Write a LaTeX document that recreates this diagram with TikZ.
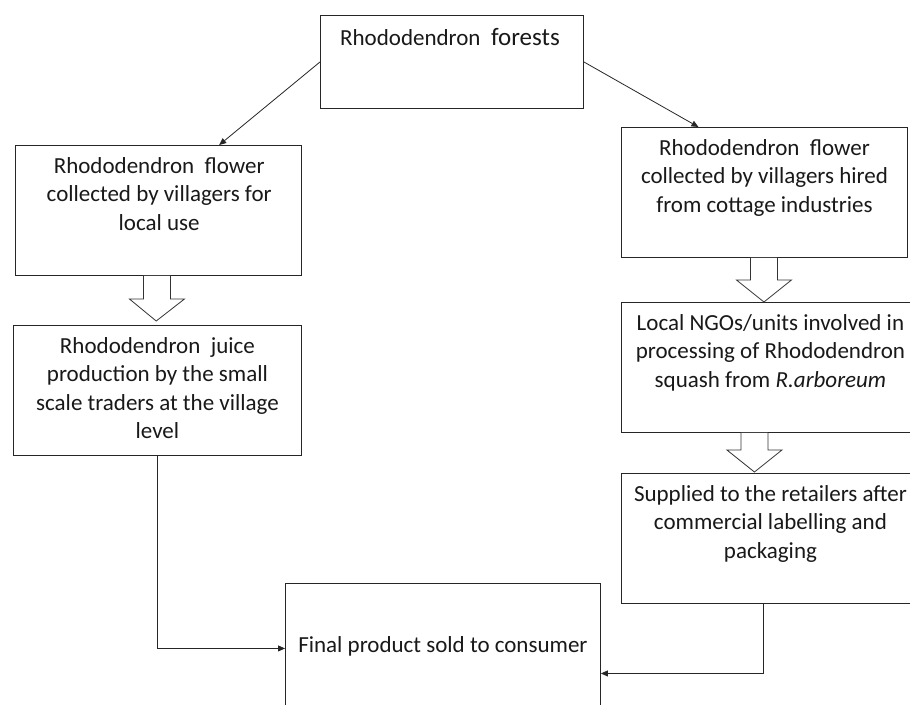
\documentclass[tikz,border=0pt]{standalone}
\usepackage{fontspec}
\setmainfont{Carlito}
\usetikzlibrary{arrows.meta,calc}
\tikzset{
  box/.style={draw=black!85, line width=0.9pt, inner sep=0pt, anchor=north west},
  txt/.style={align=center, inner sep=0pt, font=\fontsize{23}{28.5}\selectfont, text=black!90, anchor=north},
  conn/.style={draw=black!85, line width=0.8pt, -{Triangle[length=7pt,width=6pt]}},
  hollow/.style={draw=black!80, line width=0.8pt, fill=white},
}
\newcommand\blockarr[2]{%
  \draw[hollow] ($(#1)+(-13.5,0)$) -- ($(#1|-#2)+(-13.5,-22)$) -- ($(#1|-#2)+(-27.5,-22)$)
    -- (#2) -- ($(#1|-#2)+(27.5,-22)$) -- ($(#1|-#2)+(13.5,-22)$) -- ($(#1)+(13.5,0)$);}
\begin{document}
\begin{tikzpicture}[x=1pt,y=-1pt]
\useasboundingbox (0,0) rectangle (910,704);
\fill[white] (0,0) rectangle (910,704);
\clip (0,0) rectangle (910,704);

% boxes
\node[box, minimum width=263pt, minimum height=93pt] (tb) at (320,15) {};
\node[box, minimum width=286.5pt, minimum height=130pt] (l1) at (14.5,145) {};
\node[box, minimum width=288pt, minimum height=130pt] (l2) at (13,325) {};
\node[box, minimum width=286pt, minimum height=130pt] (r1) at (621,127) {};
\node[box, minimum width=298pt, minimum height=130pt] (r2) at (621,302) {};
\node[box, minimum width=298pt, minimum height=130pt] (r3) at (621,473) {};
\node[box, minimum width=315pt, minimum height=130pt] (fb) at (285,583) {};

% texts
\node[txt, anchor=base] (tbt) at ($(tb.north)+(-2,30)$) {Rhododendron\ \ {\fontsize{25}{28}\selectfont forests}};
\node[txt] (l1t) at ($(l1.north)+(1,12)$) {Rhododendron\ \ flower\\collected by villagers for\\local use};
\node[txt] (l2t) at ($(l2.north)+(0,12)$) {Rhododendron\ \ juice\\production by the small\\scale traders at the village\\level};
\node[txt] (r1t) at ($(r1.north)+(0,12)$) {Rhododendron\ \ flower\\collected by villagers hired\\from cottage industries};
\node[txt] (r2t) at ($(r2.north)+(0,12)$) {Local NGOs/units involved in\\processing of Rhododendron\\squash from \textit{R.arboreum}};
\node[txt] (r3t) at ($(r3.north)+(0,12)$) {Supplied to the retailers after\\commercial labelling and\\packaging};
\node[txt, anchor=base] (fbt) at ($(fb.north)+(0,69)$) {Final product sold to consumer};

% diagonal arrows
\draw[conn] (tb.west) -- ($(l1.north)+(61,0)$);
\draw[conn] (tb.east) -- ($(r1.north)+(-66,0)$);

% block arrows
\coordinate (a1s) at ($(l1.south)+(-1.25,0)$);
\coordinate (a1e) at ($(l2.north)+(-1.25,-4)$);
\blockarr{a1s}{a1e}
\coordinate (a2s) at ($(r1.south)+(-0.5,0)$);
\coordinate (a2e) at ($(r2.north)+(-6.5,0)$);
\blockarr{a2s}{a2e}
\coordinate (a3s) at ($(r2.south)+(-16,0)$);
\coordinate (a3e) at ($(r3.north)+(-16,-1)$);
\blockarr{a3s}{a3e}

% connectors to final box
\draw[conn] (l2.south) |- (fb.west);
\draw[conn] ($(r3.south)+(-7,0)$) |- ($(fb.east)+(0,25)$);
\end{tikzpicture}
\end{document}
